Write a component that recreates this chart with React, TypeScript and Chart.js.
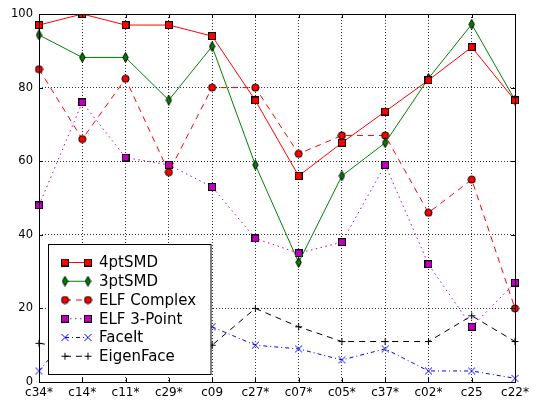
import React, { useEffect, useRef } from 'react';
import { Chart, registerables } from 'chart.js';

Chart.register(...registerables);

const categories = ['c34*', 'c14*', 'c11*', 'c29*', 'c09', 'c27*', 'c07*', 'c05*', 'c37*', 'c02*', 'c25', 'c22*'];
const smd4 = [97, 100, 97, 97, 94, 76.5, 56, 65, 73.5, 82, 91, 76.5];
const smd3 = [94.3, 88.2, 88.2, 76.6, 91.2, 59, 32.5, 56, 65, 82.5, 97.2, 76.6];
const elfComplex = [85, 66, 82.4, 57, 80, 80, 62, 67, 67, 46, 55, 20];
const elf3Point = [48, 76, 61, 59, 53, 39, 35, 38, 59, 32, 15, 27];
const faceIt = [3, 17, 18, 17, 15, 10, 9, 6, 9, 3, 3, 1];
const eigenFace = [10.5, 9, 9, 8, 10, 20, 15, 11, 11, 11, 18, 11];
const seriesNames = ['4ptSMD', '3ptSMD', 'ELF Complex', 'ELF 3-Point', 'FaceIt', 'EigenFace'];
const yMin = 0;
const yMax = 100;
const yStep = 20;

const FONT = '"DejaVu Sans", sans-serif';

function makeCanvas(w: number, h: number, draw: (ctx: CanvasRenderingContext2D) => void) {
  const c = document.createElement('canvas');
  c.width = w;
  c.height = h;
  const ctx = c.getContext('2d')!;
  draw(ctx);
  return c;
}

function squareMarker(fill: string) {
  return makeCanvas(8, 8, (ctx) => {
    ctx.fillStyle = fill;
    ctx.fillRect(0, 0, 8, 8);
    ctx.strokeStyle = '#000';
    ctx.lineWidth = 1;
    ctx.strokeRect(0.5, 0.5, 7, 7);
  });
}
function circleMarker(fill: string) {
  return makeCanvas(9, 9, (ctx) => {
    ctx.beginPath();
    ctx.arc(4.5, 4.5, 3.6, 0, Math.PI * 2);
    ctx.fillStyle = fill;
    ctx.fill();
    ctx.strokeStyle = '#000';
    ctx.lineWidth = 1;
    ctx.stroke();
  });
}
function diamondMarker(fill: string) {
  return makeCanvas(7, 11, (ctx) => {
    ctx.beginPath();
    ctx.moveTo(3.5, 0.6);
    ctx.lineTo(6.2, 5.5);
    ctx.lineTo(3.5, 10.4);
    ctx.lineTo(0.8, 5.5);
    ctx.closePath();
    ctx.fillStyle = fill;
    ctx.fill();
    ctx.strokeStyle = '#000';
    ctx.lineWidth = 1;
    ctx.stroke();
  });
}
function xMarker(color: string) {
  return makeCanvas(9, 9, (ctx) => {
    ctx.strokeStyle = color;
    ctx.lineWidth = 1;
    ctx.beginPath();
    ctx.moveTo(1, 1);
    ctx.lineTo(8, 8);
    ctx.moveTo(1, 8);
    ctx.lineTo(8, 1);
    ctx.stroke();
  });
}
function plusMarker(color: string) {
  return makeCanvas(9, 9, (ctx) => {
    ctx.strokeStyle = color;
    ctx.lineWidth = 1;
    ctx.beginPath();
    ctx.moveTo(1, 4.5);
    ctx.lineTo(8, 4.5);
    ctx.moveTo(4.5, 1);
    ctx.lineTo(4.5, 8);
    ctx.stroke();
  });
}

export default function App() {
  const ref = useRef<HTMLCanvasElement>(null);

  useEffect(() => {
    if (!ref.current) return;
    const RED = '#ff0000';
    const GREEN = '#008000';
    const MAG = '#bf00bf';
    const BLUE = '#0000ff';
    const BLACK = '#000000';

    const styles = [
      { color: RED, dash: [] as number[], marker: squareMarker(RED), data: smd4 },
      { color: GREEN, dash: [] as number[], marker: diamondMarker(GREEN), data: smd3 },
      { color: RED, dash: [6, 5], marker: circleMarker(RED), data: elfComplex },
      { color: MAG, dash: [1.5, 3.5], marker: squareMarker(MAG), data: elf3Point },
      { color: BLUE, dash: [4, 3, 1, 3], marker: xMarker(BLUE), data: faceIt },
      { color: BLACK, dash: [6, 5], marker: plusMarker(BLACK), data: eigenFace },
    ];

    const framePlugin = {
      id: 'frameAndLegend',
      afterDraw(chart: any) {
        const { ctx, chartArea: a } = chart;
        ctx.save();
        // inward tick marks
        ctx.strokeStyle = '#000';
        ctx.lineWidth = 1;
        const xs = chart.scales.x;
        const ys = chart.scales.y;
        ctx.beginPath();
        for (let i = 0; i < categories.length; i++) {
          const px = Math.round(xs.getPixelForValue(i)) + 0.5;
          ctx.moveTo(px, a.bottom);
          ctx.lineTo(px, a.bottom - 4);
          ctx.moveTo(px, a.top);
          ctx.lineTo(px, a.top + 4);
        }
        for (let v = yMin; v <= yMax; v += yStep) {
          const py = Math.round(ys.getPixelForValue(v)) + 0.5;
          ctx.moveTo(a.left, py);
          ctx.lineTo(a.left + 4, py);
          ctx.moveTo(a.right, py);
          ctx.lineTo(a.right - 4, py);
        }
        ctx.stroke();
        // frame
        ctx.strokeRect(Math.round(a.left) + 0.5, Math.round(a.top) + 0.5, Math.round(a.right - a.left), Math.round(a.bottom - a.top));

        // legend
        const lx = 48.5, ly = 244.5, lw = 162.5, lh = 130;
        ctx.fillStyle = '#ffffff';
        ctx.fillRect(lx, ly, lw, lh);
        ctx.strokeStyle = '#000';
        ctx.lineWidth = 1;
        ctx.strokeRect(lx, ly, lw, lh);
        ctx.font = `15px ${FONT}`;
        ctx.textBaseline = 'middle';
        ctx.textAlign = 'left';
        styles.forEach((s, i) => {
          const cy = 262.5 + i * 18.75;
          ctx.save();
          ctx.strokeStyle = s.color;
          ctx.lineWidth = 1;
          ctx.setLineDash(s.dash);
          ctx.beginPath();
          ctx.moveTo(65, cy);
          ctx.lineTo(88, cy);
          ctx.stroke();
          ctx.restore();
          const m = s.marker;
          ctx.drawImage(m, 65 - m.width / 2, cy - m.height / 2);
          ctx.drawImage(m, 88 - m.width / 2, cy - m.height / 2);
          ctx.fillStyle = '#000';
          ctx.fillText(seriesNames[i], 99, cy + 1);
        });
        ctx.restore();
      },
    };

    const chart = new Chart(ref.current, {
      type: 'line',
      data: {
        labels: categories,
        datasets: styles.map((s, i) => ({
          label: seriesNames[i],
          data: s.data,
          borderColor: s.color,
          backgroundColor: s.color,
          borderWidth: 1,
          borderDash: s.dash,
          pointStyle: s.marker as any,
          pointRadius: 4,
          pointHoverRadius: 4,
          tension: 0,
          fill: false,
        })),
      },
      options: {
        animation: false,
        responsive: false,
        maintainAspectRatio: false,
        events: [],
        layout: { padding: { top: 14, right: 23, left: 0, bottom: 0 } },
        plugins: { legend: { display: false }, tooltip: { enabled: false }, title: { display: false } },
        scales: {
          x: {
            type: 'category',
            offset: false,
            grid: { color: 'rgba(0,0,0,0.8)', lineWidth: 1, drawTicks: false },
            border: { display: false, dash: [1, 2] },
            ticks: { color: '#000', font: { family: FONT, size: 12 }, padding: 4, maxRotation: 0, autoSkip: false },
            afterFit: (s: any) => { s.height = 19; },
          },
          y: {
            min: yMin,
            max: yMax,
            grid: { color: 'rgba(0,0,0,0.8)', lineWidth: 1, drawTicks: false },
            border: { display: false, dash: [1, 2] },
            ticks: { color: '#000', stepSize: yStep, font: { family: FONT, size: 11.5 }, padding: 6 },
            afterFit: (s: any) => { s.width = 39; },
          },
        },
      },
      plugins: [framePlugin],
    });
    return () => chart.destroy();
  }, []);

  return (
    <div style={{ position: 'fixed', left: 0, top: 0, width: 538, height: 401, background: '#fff' }}>
      <canvas ref={ref} width={538} height={401} style={{ display: 'block', width: 538, height: 401 }} />
    </div>
  );
}
